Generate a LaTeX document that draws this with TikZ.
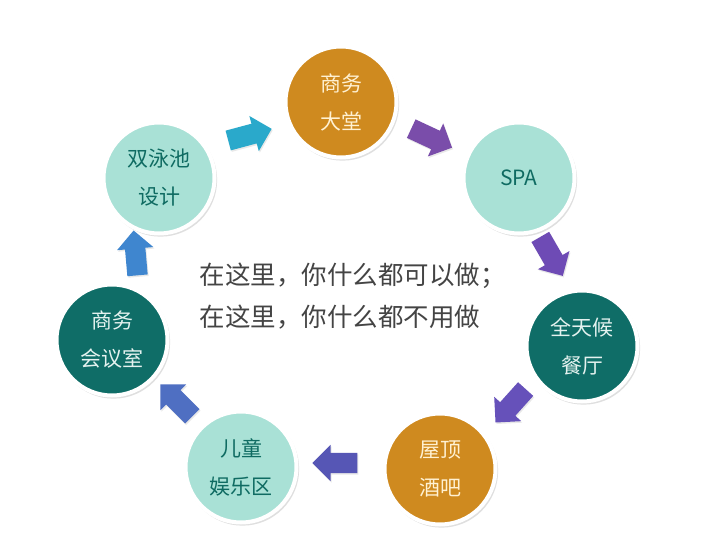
\documentclass[tikz,border=0pt]{standalone}
\usepackage{fontspec}
\newfontfamily\cjk{Noto Sans CJK SC}
\usetikzlibrary{shapes.arrows,shadows}
\definecolor{gold}{HTML}{CF8A1F}
\definecolor{lteal}{HTML}{A9E1D6}
\definecolor{dteal}{HTML}{0F6D67}
\definecolor{ltxt}{HTML}{0F6B62}
\definecolor{gtxt}{HTML}{FFF1D2}
\definecolor{dtxt}{HTML}{E4F2EF}
\definecolor{ac1}{HTML}{2AA9CB}
\definecolor{ac2}{HTML}{7A4DAA}
\definecolor{ac3}{HTML}{6E4BB5}
\definecolor{ac4}{HTML}{6651BA}
\definecolor{ac5}{HTML}{5656B5}
\definecolor{ac6}{HTML}{4F6FC2}
\definecolor{ac7}{HTML}{3F86CF}
\definecolor{midtxt}{HTML}{444444}
\tikzset{
  ball/.style={circle, draw=white, line width=4pt, minimum size=111pt, inner sep=0pt,
    align=center, font=\cjk\fontsize{21}{38}\selectfont,
    drop shadow={opacity=0.25, shadow scale=1.02, shadow xshift=1.5pt, shadow yshift=-2pt}},
  goldball/.style={ball, fill=gold, text=gtxt},
  lightball/.style={ball, fill=lteal, text=ltxt},
  darkball/.style={ball, fill=dteal, text=dtxt},
  blockarrow/.style={single arrow, draw=none, inner xsep=0pt, inner ysep=10pt,
    minimum height=45pt, minimum width=36pt, single arrow head extend=8pt,
    drop shadow={opacity=0.18, shadow xshift=1pt, shadow yshift=-1.5pt}}
}
\begin{document}
\begin{tikzpicture}[x=1pt,y=-1pt]
\useasboundingbox (0,0) rectangle (707,545);
\fill[white] (0,0) rectangle (707,545);
\node[goldball]  (dt)  at (341,102) {商务\\大堂};
\node[lightball] (spa) at (519,178) {SPA};
\node[darkball]  (ct)  at (582,346) {全天候\\餐厅};
\node[goldball]  (jb)  at (440,469) {屋顶\\酒吧};
\node[lightball] (et)  at (241,467) {儿童\\娱乐区};
\node[darkball]  (hy)  at (112,340) {商务\\会议室};
\node[lightball] (yc)  at (159,178) {双泳池\\设计};
\node[blockarrow, fill=ac1, rotate=15]   (a1) at (245,136) {};
\node[blockarrow, fill=ac2, rotate=-25]  (a2) at (427,136) {};
\node[blockarrow, fill=ac3, rotate=-60]  (a3) at (549,252) {};
\node[blockarrow, fill=ac4, rotate=-132] (a4) at (514,402) {};
\node[blockarrow, fill=ac5, rotate=180]  (a5) at (340,463) {};
\node[blockarrow, fill=ac6, rotate=135]  (a6) at (180,404) {};
\node[blockarrow, fill=ac7, rotate=95]   (a7) at (136,258) {};
\node[anchor=west, align=left, text=midtxt, font=\cjk\fontsize{25.5}{42}\selectfont] (mid) at (196,296)
  {在这里，你什么都可以做；\\在这里，你什么都不用做};
\end{tikzpicture}
\end{document}
